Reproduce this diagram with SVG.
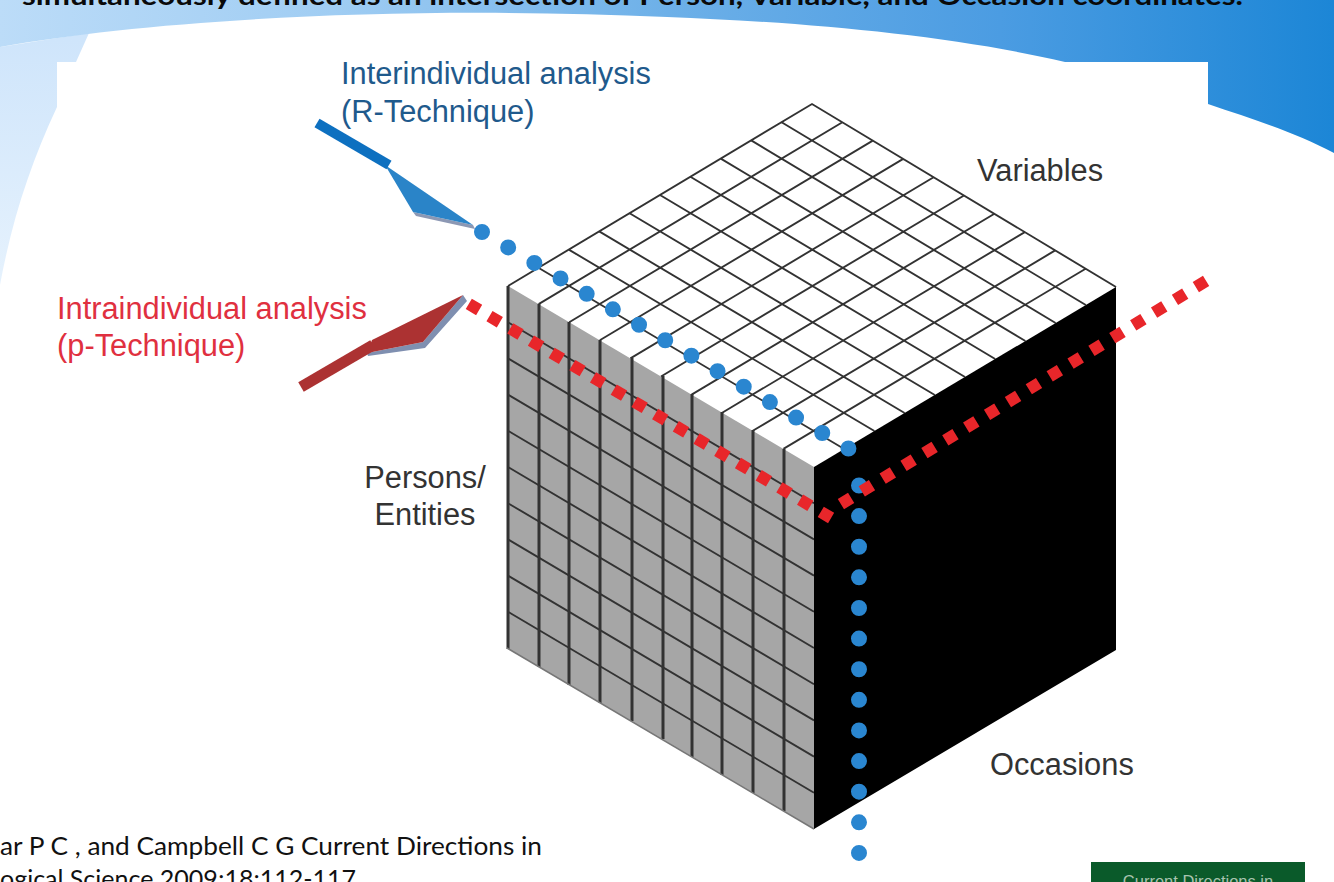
<svg xmlns="http://www.w3.org/2000/svg" width="1334" height="882" viewBox="0 0 1334 882">
<style>
.lab{font-family:"Liberation Sans",Arial,sans-serif;font-size:30.800px}
.dark{fill:#333}
.blue{fill:#1f5a8c}
.red{fill:#e0303f}
.cit{font-family:Lato,"Liberation Sans",sans-serif;font-size:25px;fill:#111}
.grid{fill:none;stroke:#333;stroke-width:1.9}
</style>
<defs>
<linearGradient id="band" x1="0" y1="0" x2="1334" y2="0" gradientUnits="userSpaceOnUse">
<stop offset="0" stop-color="#bcdcf8"/><stop offset="0.25" stop-color="#a0cdf3"/><stop offset="0.5" stop-color="#6db0e8"/><stop offset="0.75" stop-color="#4b9ce2"/><stop offset="1" stop-color="#1c86d6"/>
</linearGradient>
<linearGradient id="side" x1="0" y1="40" x2="0" y2="290" gradientUnits="userSpaceOnUse">
<stop offset="0" stop-color="#cfe5fb"/><stop offset="1" stop-color="#e6f2fd"/>
</linearGradient>
<filter id="soft" x="-5%" y="-5%" width="110%" height="110%"><feGaussianBlur stdDeviation="0.7"/></filter>
</defs>
<rect width="1334" height="882" fill="#fff"/>
<g id="background">
<path d="M0 47L0 285C12 220 30 165 57 107L57 62L76 62L89 33L0 47Z" fill="url(#side)"/>
<path d="M0 0H1334V153C1295 132 1255 120 1208 104V62H1065C950 35 800 22 667 17C400 5 150 20 0 47Z" fill="url(#band)"/>
<text x="22" y="5" font-family="Lato,'Liberation Sans',sans-serif" font-weight="700" font-size="27" fill="#0a0a0a" textLength="1221" lengthAdjust="spacingAndGlyphs">simultaneously defined as an intersection of Person, Variable, and Occasion coordinates.</text>
</g>
<g id="cube" filter="url(#soft)">
<path id="face-top" d="M508 286L812 104L1116 287L814 467Z" fill="#fff"/>
<path class="grid" d="M538.6 304.1L842.4 122.3M569.2 322.2L872.8 140.6M599.8 340.3L903.2 158.9M630.4 358.4L933.6 177.2M661 376.5L964 195.5M691.6 394.6L994.4 213.8M722.2 412.7L1024.8 232.1M752.8 430.8L1055.2 250.4M783.4 448.9L1085.6 268.7M508 286L812 104L1116 287M538.4 267.8L844.2 449M568.8 249.6L874.4 431M599.2 231.4L904.6 413M629.6 213.2L934.8 395M660 195L965 377M690.4 176.8L995.2 359M720.8 158.6L1025.4 341M751.2 140.4L1055.6 323M781.6 122.2L1085.8 305"/>
<path id="face-left" d="M508 286L814 467V829L507 648Z" fill="#a6a6a6"/>
<path class="grid" d="M508 322.2L814 503.2M508 358.4L814 539.4M508 394.6L814 575.6M508 430.8L814 611.8M508 467L814 648M508 503.2L814 684.2M508 539.4L814 720.4M508 575.6L814 756.6M508 611.8L814 792.8"/>
<path d="M508 286V649M539 304V667M569 322V685M600 340V703M632 358V721M663 376V739M692 394V757M722 412V775M753 430V793M784 449V811" fill="none" stroke="#333" stroke-width="3"/>
<path d="M507 648L814 829" fill="none" stroke="#777" stroke-width="1.5"/>
<path id="face-right" d="M814 467L1116 287V650L814 829Z" fill="#000"/>
</g>
<g id="connectors" filter="url(#soft)">
<g id="r-technique">
<path d="M413 212L416 216L475 229L473 225Z" fill="#8c98b4"/>
<path d="M385 165L473 225L413 212Z" fill="#2a84c8"/>
<path d="M317 123L389 165" fill="none" stroke="#0f70c0" stroke-width="10"/>
<line x1="482" y1="232" x2="851" y2="450" stroke="#2a86d0" stroke-width="16" stroke-linecap="round" stroke-dasharray="0 30.4"/>
<line x1="859" y1="485.500" x2="859" y2="853" stroke="#2a86d0" stroke-width="16" stroke-linecap="round" stroke-dasharray="0 30.62"/>
</g>
<g id="p-technique">
<path d="M463 295L467 301L425 348L368 356L367 353L423 342Z" fill="#7f8fb0"/>
<path d="M372 340L463 295L423 342L367 353Z" fill="#ac3232"/>
<path d="M301 387L373 345" fill="none" stroke="#ac3232" stroke-width="11"/>
<line x1="468.800" y1="303.900" x2="831.200" y2="518.100" stroke="#e8252a" stroke-width="12" stroke-dasharray="12 12.05"/>
<line x1="840.900" y1="504.100" x2="1206.100" y2="280.900" stroke="#e8252a" stroke-width="12" stroke-dasharray="12 12.47"/>
</g>
</g>
<g id="labels">
<text class="lab blue" x="341" y="84">Interindividual analysis</text>
<text class="lab blue" x="341" y="122">(R-Technique)</text>
<text class="lab red" x="57" y="319">Intraindividual analysis</text>
<text class="lab red" x="57" y="356">(p-Technique)</text>
<text class="lab dark" x="977" y="181">Variables</text>
<text class="lab dark" x="425" y="488" text-anchor="middle">Persons/</text>
<text class="lab dark" x="425" y="525" text-anchor="middle">Entities</text>
<text class="lab dark" x="990" y="775">Occasions</text>
</g>
<g id="citation">
<text class="cit" x="0" y="855" textLength="542" lengthAdjust="spacingAndGlyphs">ar P C , and Campbell C G Current Directions in</text>
<text class="cit" x="0" y="888" textLength="362" lengthAdjust="spacingAndGlyphs">ogical Science 2009;18:112-117.</text>
</g>
<g id="journal">
<rect x="1091" y="862" width="214" height="20" fill="#0a5a2a"/>
<text x="1198" y="887" text-anchor="middle" font-family="'Liberation Sans',sans-serif" font-size="16.500" fill="#a9c4b0">Current Directions in</text>
</g>
</svg>
